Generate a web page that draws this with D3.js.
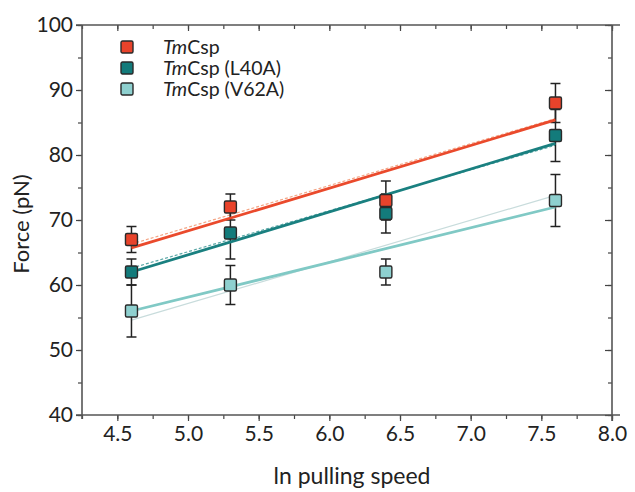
<!DOCTYPE html>
<html>
<head>
<meta charset="utf-8">
<script src="https://cdn.jsdelivr.net/npm/d3@7"></script>
<style>
  body { margin: 0; background: #fff; }
  svg text { font-family: "Lato", "Open Sans", sans-serif; fill: #222; }
</style>
</head>
<body>
<script>
// data
var speeds = [4.6, 5.3, 6.4, 7.6];
var seriesNames = ["TmCsp", "TmCsp (L40A)", "TmCsp (V62A)"];
var wtForce = [67, 72, 73, 88];
var wtErr = [2, 2, 3, 3];
var l40Force = [62, 68, 71, 83];
var l40Err = [2, 4, 3, 4];
var v62Force = [56, 60, 62, 73];
var v62Err = [4, 3, 2, 4];
// fitted lines, start/end value at first/last speed
var wtFit = [65.7, 85.4];
var l40Fit = [62.0, 81.8];
var v62Fit = [56.0, 72.0];
var wtFit2 = [66.3, 85.6];
var l40Fit2 = [62.6, 81.5];
var v62Fit2 = [54.6, 73.8];
var xTicks = [4.5, 5.0, 5.5, 6.0, 6.5, 7.0, 7.5, 8.0];
var yTicks = [40, 50, 60, 70, 80, 90, 100];

var colors = ["#e8432b", "#137b7b", "#8ed0cf"];
var lineColors = ["#ea4a2c", "#1a8080", "#80c9c5"];
var thinColors = ["#f4a585", "#5aa7a6", "#c8dcdc"];

var W = 635, H = 492;
var pLeft = 82, pRight = 612, pTop = 25, pBottom = 415;

var svg = d3.select("body").append("svg")
  .attr("width", W)
  .attr("height", H);

var x = d3.scaleLinear().domain([4.25, 8.0]).range([pLeft, pRight]);
var y = d3.scaleLinear().domain([40, 100]).range([pBottom, pTop]);

// axes
var minorX = d3.range(4.25, 8.01, 0.25);
var minorY = d3.range(40, 100.1, 5);

svg.append("g").attr("transform", "translate(0," + pBottom + ")")
  .call(d3.axisBottom(x).tickValues(minorX).tickSize(4).tickFormat(""));
svg.append("g").attr("transform", "translate(0," + pBottom + ")")
  .call(d3.axisBottom(x).tickValues(xTicks).tickSize(6).tickPadding(5).tickFormat(d3.format(".1f")));
svg.append("g").attr("transform", "translate(0," + pTop + ")")
  .call(d3.axisBottom(x).tickValues(minorX).tickSize(4).tickFormat(""));
svg.append("g").attr("transform", "translate(0," + pTop + ")")
  .call(d3.axisBottom(x).tickValues(xTicks).tickSize(6).tickFormat(""));
svg.append("g").attr("transform", "translate(" + pLeft + ",0)")
  .call(d3.axisLeft(y).tickValues(minorY).tickSize(4).tickFormat(""));
svg.append("g").attr("transform", "translate(" + pLeft + ",0)")
  .call(d3.axisLeft(y).tickValues(yTicks).tickSize(6).tickPadding(3).tickFormat(d3.format("d")));
svg.append("g").attr("transform", "translate(" + pRight + ",0)")
  .call(d3.axisLeft(y).tickValues(minorY).tickSize(4).tickFormat(""));
svg.append("g").attr("transform", "translate(" + pRight + ",0)")
  .call(d3.axisLeft(y).tickValues(yTicks).tickSize(7).tickFormat(""));

svg.selectAll(".domain").remove();
svg.selectAll(".tick line").attr("stroke", "#444").attr("stroke-width", 1.2);
svg.selectAll(".tick text").attr("font-size", 21).attr("fill", "#222");

// frame lines
svg.append("line").attr("x1", pLeft - 6).attr("x2", pRight + 8).attr("y1", pTop).attr("y2", pTop)
  .attr("stroke", "#555").attr("stroke-width", 1.6);
svg.append("line").attr("x1", pLeft - 6).attr("x2", pRight + 8).attr("y1", pBottom).attr("y2", pBottom)
  .attr("stroke", "#555").attr("stroke-width", 1.6);
svg.append("line").attr("x1", pLeft).attr("x2", pLeft).attr("y1", pTop).attr("y2", pBottom + 4)
  .attr("stroke", "#555").attr("stroke-width", 1.6);
svg.append("line").attr("x1", pRight).attr("x2", pRight).attr("y1", pTop).attr("y2", pBottom + 6)
  .attr("stroke", "#555").attr("stroke-width", 1.6);

// axis titles
svg.append("text")
  .attr("x", (pLeft + pRight) / 2 + 5).attr("y", 484)
  .attr("text-anchor", "middle").attr("font-size", 23)
  .text("ln pulling speed");
svg.append("text")
  .attr("transform", "translate(29," + ((pTop + pBottom) / 2 + 4) + ") rotate(-90)")
  .attr("text-anchor", "middle").attr("font-size", 22)
  .text("Force (pN)");

var series = [
  {force: wtForce, err: wtErr, fit: wtFit, fit2: wtFit2},
  {force: l40Force, err: l40Err, fit: l40Fit, fit2: l40Fit2},
  {force: v62Force, err: v62Err, fit: v62Fit, fit2: v62Fit2}
];

var xEnds = [speeds[0], speeds[speeds.length - 1]];
var fitLine = d3.line()
  .x(function(d, i) { return x(xEnds[i]); })
  .y(function(d) { return y(d); });

// thin fits
series.forEach(function(s, k) {
  svg.append("path")
    .datum(s.fit2)
    .attr("fill", "none")
    .attr("stroke", thinColors[k])
    .attr("stroke-width", 1.2)
    .attr("stroke-dasharray", k == 2 ? null : "3,2")
    .attr("d", fitLine);
});

// error bars
series.forEach(function(s, k) {
  var g = svg.append("g");
  speeds.forEach(function(sp, i) {
    var cx = x(sp);
    var y1 = y(s.force[i] + s.err[i]), y2 = y(s.force[i] - s.err[i]);
    g.append("line").attr("x1", cx).attr("x2", cx).attr("y1", y1).attr("y2", y2)
      .attr("stroke", "#222").attr("stroke-width", 1.5);
    [y1, y2].forEach(function(yy) {
      g.append("line").attr("x1", cx - 5).attr("x2", cx + 5).attr("y1", yy).attr("y2", yy)
        .attr("stroke", "#222").attr("stroke-width", 1.5);
    });
  });
});

// thick fits
series.forEach(function(s, k) {
  svg.append("path")
    .datum(s.fit)
    .attr("fill", "none")
    .attr("stroke", lineColors[k])
    .attr("stroke-width", 2.8)
    .attr("d", fitLine);
});

// markers
series.forEach(function(s, k) {
  svg.selectAll(".m" + k)
    .data(s.force)
    .enter()
    .append("rect")
    .attr("class", "m" + k)
    .attr("x", function(d, i) { return x(speeds[i]) - 6; })
    .attr("y", function(d) { return y(d) - 6; })
    .attr("width", 12).attr("height", 12)
    .attr("rx", 1.5)
    .attr("fill", colors[k])
    .attr("stroke", "#2a2a2a")
    .attr("stroke-width", 1.4);
});

// legend
var leg = svg.append("g").attr("transform", "translate(121,41)");
seriesNames.forEach(function(name, k) {
  var row = leg.append("g").attr("transform", "translate(0," + (k * 21) + ")");
  row.append("rect").attr("x", 0).attr("y", 0).attr("width", 12).attr("height", 12)
    .attr("rx", 1.5)
    .attr("fill", colors[k]).attr("stroke", "#2a2a2a").attr("stroke-width", 1.4);
  var t = row.append("text").attr("x", 42).attr("y", 13).attr("font-size", 19.5);
  t.append("tspan").attr("font-style", "italic").text(name.slice(0, 2));
  t.append("tspan").text(name.slice(2));
});
</script>
</body>
</html>
